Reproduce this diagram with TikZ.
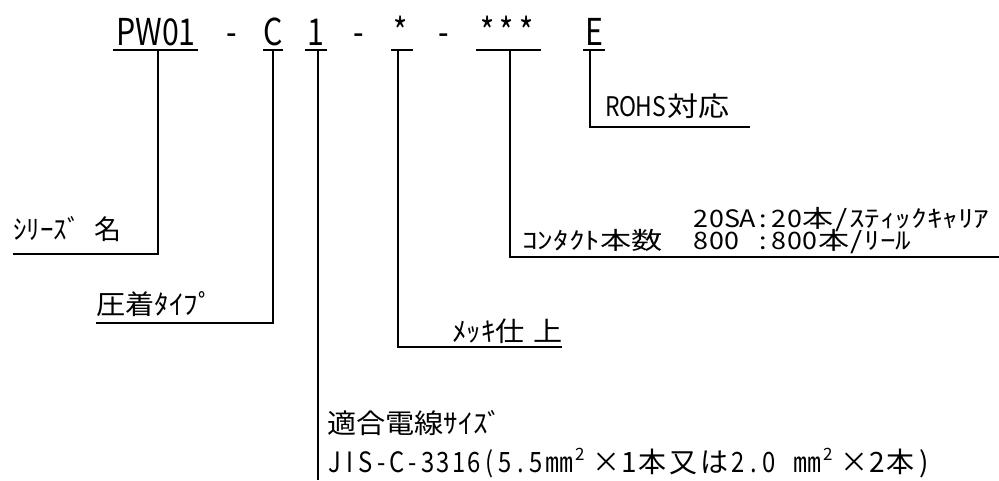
\documentclass[tikz,border=0pt]{standalone}
\usepackage{fontspec}
\setmainfont{Noto Sans CJK JP}
\newfontfamily\narrowfont[FakeStretch=0.82]{Noto Sans CJK JP}
\newfontfamily\latn[FakeStretch=0.85]{Noto Sans CJK JP}
\newfontfamily\cntlatn[FakeStretch=1.12]{Noto Sans CJK JP}
\newfontfamily\widefont[FakeStretch=1.08]{Noto Sans CJK JP}
\newfontfamily\widerfont[FakeStretch=1.15]{Noto Sans CJK JP}
\newfontfamily\cntfont[FakeStretch=1.3]{Noto Sans CJK JP}
\newlength\hw
\let\monolat\latn
\def\mloop#1{\ifx#1\relax\else\makebox[\hw][c]{\monolat #1}\expandafter\mloop\fi}
\newcommand\mono[1]{\mloop#1\relax}
\newcommand\hcell[1]{\makebox[\hw][c]{#1}}
\newcommand\fcell[1]{\makebox[2\hw][c]{#1}}
\newcommand\sqtwo{\makebox[\hw][l]{\raisebox{0.42em}{\fontsize{17}{17}\selectfont 2}}}
\begin{document}
\begin{tikzpicture}[x=1pt,y=-1pt,
  topchar/.style={anchor=base,inner sep=0pt,font=\narrowfont\fontsize{37}{37}\selectfont},
  lbl/.style={anchor=base west,inner sep=0pt},
  uline/.style={line width=2pt},
  lead/.style={line width=1.2pt}]
\useasboundingbox (0,0) rectangle (999,480);
% top code line
\node[topchar] (tPW) at (156,45) {PW01};
\node[topchar] (tD1) at (232,45) {-};
\node[topchar] (tC) at (273,45) {C};
\node[topchar] (t1) at (316,45) {1};
\node[topchar] (tD2) at (359,45) {-};
\node[topchar] (tS1) at (401,45) {*};
\node[topchar] (tD3) at (444,45) {-};
\node[topchar] (tS3) at (507,45) {*\hspace{5pt}*\hspace{5pt}*};
\node[topchar] (tE) at (594,45) {E};
% underlines
\coordinate (uPWa) at (113,50); \coordinate (uPWb) at (198,50);
\coordinate (uCa) at (263,50); \coordinate (uCb) at (283,50);
\coordinate (u1a) at (305,50); \coordinate (u1b) at (327,50);
\coordinate (uSa) at (391,50); \coordinate (uSb) at (413,50);
\coordinate (uTa) at (476,50); \coordinate (uTb) at (541,50);
\coordinate (uEa) at (583,50); \coordinate (uEb) at (605,50);
\draw[uline] (uPWa)--(uPWb);
\draw[uline] (uCa)--(uCb);
\draw[uline] (u1a)--(u1b);
\draw[uline] (uSa)--(uSb);
\draw[uline] (uTa)--(uTb);
\draw[uline] (uEa)--(uEb);
% labels
\node[lbl,font=\fontsize{27}{27}\selectfont] (lSeries) at (13,239) {ｼﾘｰｽﾞ\makebox[0.5em]{}名};
\node[lbl,font=\widefont\fontsize{27}{27}\selectfont] (lCrimp) at (96,314) {圧着ﾀｲﾌﾟ};
\node[lbl,font=\widefont\fontsize{27}{27}\selectfont] (lPlate) at (452,341) {ﾒｯｷ仕\hspace{8pt}上};
\node[lbl,font=\widerfont\fontsize{27}{27}\selectfont\setlength\hw{15.5pt}] (lRohs) at (605,116) {\mono{ROHS}対応};
\node[lbl,font=\cntfont\fontsize{24}{24}\selectfont] (lCount) at (522,249) {ｺﾝﾀｸﾄ本数};
\node[lbl,font=\cntfont\fontsize{24}{24}\selectfont\setlength\hw{15.6pt}\let\monolat\cntlatn] (lC1) at (693,227) {\mono{20SA:20}\fcell{本}\hcell{/}ｽﾃｨｯｸｷｬﾘｱ};
\node[lbl,font=\cntfont\fontsize{24}{24}\selectfont\setlength\hw{15.6pt}\let\monolat\cntlatn] (lC2) at (693,249) {\mono{800}\hcell{}\mono{:800}\fcell{本}\hcell{/}ﾘｰﾙ};
\node[lbl,font=\widefont\fontsize{27}{27}\selectfont] (lWire) at (327,433) {適合電線ｻｲｽﾞ};
\node[lbl,font=\fontsize{28}{28}\selectfont\setlength\hw{15.5pt}] (lJis) at (327,472) {\mono{JIS-C-3316(5.5}\fcell{㎜}\sqtwo\fcell{×}\hcell{1}\fcell{本}\fcell{又}\fcell{は}\mono{2.0}\hcell{}\fcell{㎜}\sqtwo\fcell{×}\hcell{2}\fcell{本}\hcell{)}};
% leaders
\coordinate (aPW) at (158,50); \coordinate (bPW) at (158,254); \coordinate (cPW) at (13,254);
\draw[lead] (aPW)--(bPW)--(cPW);
\coordinate (aC) at (273,50); \coordinate (bC) at (273,323); \coordinate (cC) at (96,323);
\draw[lead] (aC)--(bC)--(cC);
\coordinate (a1) at (318,50); \coordinate (b1) at (318,480);
\draw[lead] (a1)--(b1);
\coordinate (aS) at (398,50); \coordinate (bS) at (398,347); \coordinate (cS) at (562,347);
\draw[lead] (aS)--(bS)--(cS);
\coordinate (aT) at (510,50); \coordinate (bT) at (510,257); \coordinate (cT) at (999,257);
\draw[lead] (aT)--(bT)--(cT);
\coordinate (aE) at (590,50); \coordinate (bE) at (590,127); \coordinate (cE) at (750,127);
\draw[lead] (aE)--(bE)--(cE);
\end{tikzpicture}
\end{document}
